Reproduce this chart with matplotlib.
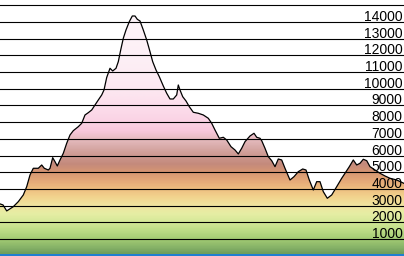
import numpy as np
import matplotlib.pyplot as plt
from matplotlib.colors import LinearSegmentedColormap

# elevation profile
dist = [0, 3, 6.7, 13.3, 18.3, 23.3, 26.7, 30, 33.3, 38.3, 41.7, 44.3, 48.3, 50,
        52.7, 55, 57.3, 60, 63.3, 66.7, 70, 73.3, 78.3, 81.7, 85, 88.3, 91.7, 95,
        98.3, 101.7, 104, 106.7, 110, 112.7, 116, 118.3, 120.7, 123.3, 126, 129.3,
        132.3, 135, 137.3, 140, 143.3, 146.7, 150, 152.7, 156, 159.3, 163.3, 166.7,
        170, 173.3, 176.7, 178.3, 180, 182.7, 186, 189.3, 193.3, 198.3, 203.3,
        208.3, 211.7, 215, 219.3, 223.3, 226.7, 231, 235, 238.3, 241.7, 245, 250,
        254, 256.7, 260, 261.7, 265, 268.3, 271.7, 275, 278.3, 281.7, 285, 290,
        294, 298.3, 302.7, 306, 309.3, 313.3, 316.7, 320, 323.3, 327.3, 331.7,
        336.7, 341.7, 345, 349.3, 353.3, 356.7, 360, 363.3, 366.7, 370, 375, 380,
        385, 390, 396.7, 404]
elev = [3100, 3040, 2680, 2935, 3235, 3636, 4133, 4834, 5235, 5235, 5433, 5235,
        5133, 5235, 5870, 5631, 5373, 5732, 6134, 6733, 7230, 7488, 7727, 7931,
        8428, 8566, 8727, 9027, 9326, 9626, 9925, 10674, 11225, 11064, 11225,
        11621, 12322, 13022, 13520, 14017, 14358, 14358, 14160, 14058, 13520,
        12922, 12220, 11621, 11124, 10722, 10165, 9728, 9386, 9386, 9626, 10225,
        9925, 9524, 9267, 8925, 8590, 8530, 8428, 8230, 7931, 7529, 7032, 7092,
        6930, 6529, 6331, 6092, 6433, 6829, 7170, 7332, 7092, 7032, 6889, 6433,
        5930, 5691, 5331, 5792, 5732, 5235, 4534, 4732, 5032, 5193, 5133, 4534,
        3935, 4433, 4433, 3834, 3438, 3636, 4133, 4636, 4936, 5331, 5732, 5433,
        5535, 5774, 5691, 5331, 5133, 4936, 4774, 4636, 4534, 4330]

levels = list(range(1000, 16000, 1000))
labels = list(range(1000, 15000, 1000))

# hypsometric tint stops
tint_elev = [0, 500, 1000, 1500, 2000, 2500, 3000, 3500, 4000, 4500, 5000, 5500,
             6000, 6500, 7000, 7500, 8000, 9000, 10000, 12000, 15400]
tint_cols = ['#689858', '#88b468', '#a4cc74', '#bcdc86', '#d4e898', '#e6eea4',
             '#f0e4a0', '#f2d48e', '#eebe80', '#e4a878', '#d69672', '#c48a7c',
             '#cc9890', '#d8aaa8', '#e6bcc0', '#f8c8dc', '#fad2e4', '#fcdeec',
             '#fce8f1', '#fdf0f6', '#fef6fa']

fig = plt.figure(figsize=(4.04, 2.56), dpi=100)
ax = fig.add_axes([0, 0, 1, 1])
ymin, ymax = -20, 15316
ax.set_xlim(0, 404)
ax.set_ylim(ymin, ymax)
ax.axis('off')

top = tint_elev[-1]
cmap = LinearSegmentedColormap.from_list(
    'tint', list(zip(np.array(tint_elev) / top, tint_cols)))
grad = np.linspace(0, top, 600).reshape(-1, 1)
im = ax.imshow(grad, aspect='auto', cmap=cmap, origin='lower',
               extent=[0, 404, 0, top], vmin=0, vmax=top, zorder=1)
poly = ax.fill_between(dist, 0, elev, facecolor='none', edgecolor='none')
im.set_clip_path(poly.get_paths()[0], transform=ax.transData)

for v in levels:
    ax.axhline(v, color='black', lw=0.8, zorder=2)

ax.plot(dist, elev, color='black', lw=0.9, zorder=3)
ax.axhspan(ymin, 90, color='#1f7fd0', lw=0, zorder=4)

for v in labels:
    ax.text(402.5, v + 60, str(v), ha='right', va='baseline', fontsize=10,
            family='Liberation Sans', zorder=5)

fig.savefig('out.png', dpi=100)
